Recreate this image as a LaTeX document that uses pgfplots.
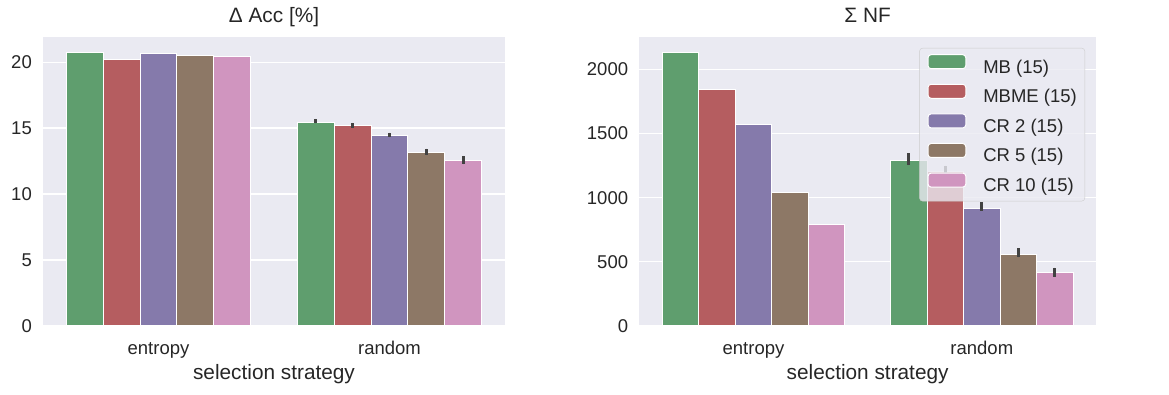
\documentclass[border=0pt]{standalone}
\usepackage{fontspec}
\setmainfont{Liberation Sans}
\usepackage{pgfplots}
\pgfplotsset{compat=1.18}

\definecolor{sbg}{HTML}{EAEAF2}
\definecolor{tc}{HTML}{262626}
\definecolor{errc}{HTML}{424242}
\definecolor{legbord}{HTML}{CCCCCC}
\definecolor{cMB}{HTML}{5F9E6E}
\definecolor{cMBME}{HTML}{B55D60}
\definecolor{cCRa}{HTML}{857AAB}
\definecolor{cCRb}{HTML}{8D7866}
\definecolor{cCRc}{HTML}{D095BF}

% bars sit at category index + hue offset (-0.32, -0.16, 0, 0.16, 0.32)
\pgfplotsset{
  sns/.style={
    scale only axis,
    height=289pt,
    axis background/.style={fill=sbg},
    axis line style={draw=none},
    tick style={draw=none},
    major tick length=0pt,
    ymajorgrids,
    grid style={white, line width=1.1pt},
    xmin=-0.5, xmax=1.5, ymin=0,
    xtick={0,1}, xticklabels={entropy,random},
    /pgf/number format/assume math mode=true,
    /pgf/number format/1000 sep={},
    tick label style={text=tc, font=\fontsize{18.5}{18.5}\selectfont, inner sep=0pt},
    yticklabel style={anchor=east, xshift=-11pt},
    xticklabel style={anchor=base, yshift=-29pt},
    xlabel={selection strategy},
    xlabel style={at={(axis description cs:0.5,0)}, anchor=base, yshift=-54pt,
      text=tc, font=\fontsize{20.8}{20.8}\selectfont, inner sep=0pt},
    title style={at={(0.5,1)}, anchor=base, yshift=8.5pt, inner sep=0pt,
      text=tc, font=\fontsize{20.8}{20.8}\selectfont},
    error bars/y dir=both,
    error bars/y explicit,
    error bars/error mark=none,
    error bars/error bar style={line width=3pt, color=errc},
  },
  bb/.style={ybar, bar width=0.16, bar shift=0, draw=white, line width=1pt,
    legend image code/.code={\draw[##1, draw=white, line width=1pt, fill opacity=1, draw opacity=1]
      (0pt,-0.5pt) rectangle (37.7pt,13.5pt);}},
}

\begin{document}
\begin{tikzpicture}
\path[use as bounding box] (0,0) rectangle (1169pt,395pt);

% left panel: Delta accuracy
\begin{axis}[sns, at={(43pt,69pt)}, anchor=south west, width=462pt,
  ymax=21.9, ytick={0,5,10,15,20}, title={Δ Acc [\%]}]
\addplot[bb, fill=cMB] coordinates {(-0.32,20.76) (0.68,15.45) += (0,0.25) -= (0,0.10)};
\addplot[bb, fill=cMBME] coordinates {(-0.16,20.23) (0.84,15.17) += (0,0.23) -= (0,0.17)};
\addplot[bb, fill=cCRa] coordinates {(0,20.68) (1,14.42) += (0,0.23) -= (0,0.12)};
\addplot[bb, fill=cCRb] coordinates {(0.16,20.53) (1.16,13.13) += (0,0.32) -= (0,0.18)};
\addplot[bb, fill=cCRc] coordinates {(0.32,20.45) (1.32,12.53) += (0,0.37) -= (0,0.28)};
\end{axis}

% right panel: sum of NF
\begin{axis}[sns, at={(639.3pt,69pt)}, anchor=south west, width=456.7pt,
  ymax=2252, ytick={0,500,1000,1500,2000}, title={Σ NF},
  legend cell align=left,
  legend style={at={(1,1)}, xshift=-11pt, yshift=-11pt, anchor=north east,
    fill=sbg, fill opacity=0.8, text opacity=1, draw=legbord, draw opacity=1,
    rounded corners=3pt, text=tc, font=\fontsize{18.5}{18.5}\selectfont,
    inner xsep=8pt, inner ysep=6pt, row sep=7.1pt, column sep=0pt,
    nodes={inner sep=0pt, text height=13.5pt, text depth=3.5pt},
    /tikz/every odd column/.append style={column sep=17pt}}]
\addplot[bb, fill=cMB] coordinates {(-0.32,2135) (0.68,1293) += (0,52) -= (0,39)};
\addplot[bb, fill=cMBME] coordinates {(-0.16,1839) (0.84,1200) += (0,50) -= (0,50)};
\addplot[bb, fill=cCRa] coordinates {(0,1574) (1,919) += (0,45) -= (0,20)};
\addplot[bb, fill=cCRb] coordinates {(0.16,1039) (1.16,561) += (0,44) -= (0,26)};
\addplot[bb, fill=cCRc] coordinates {(0.32,787) (1.32,413) += (0,41) -= (0,29)};
\legend{MB (15), MBME (15), CR 2 (15), CR 5 (15), CR 10 (15)}
\end{axis}
\end{tikzpicture}
\end{document}
